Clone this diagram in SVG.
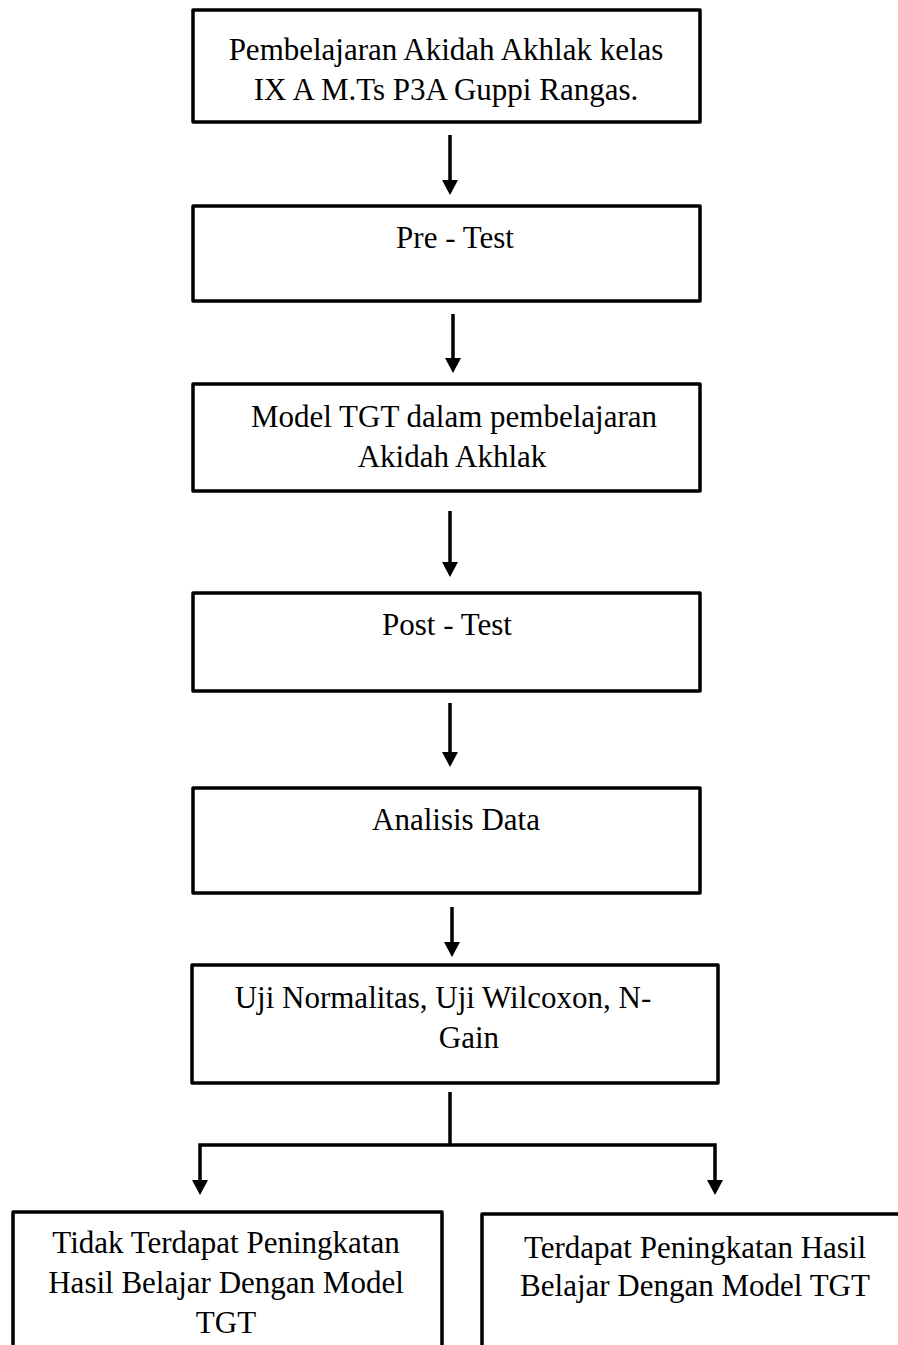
<svg xmlns="http://www.w3.org/2000/svg" width="898" height="1345" viewBox="0 0 898 1345">
<style>
.box{fill:#fff;stroke:#000;stroke-width:3.5;stroke-linejoin:round}
.t{font-family:"Liberation Serif","Times New Roman",serif;font-size:31px;fill:#000;text-anchor:middle}
.c{fill:none;stroke:#000;stroke-width:3.5}
.a{marker-end:url(#ah)}
</style>
<defs>
<marker id="ah" markerUnits="userSpaceOnUse" markerWidth="18" markerHeight="18" refX="11" refY="8" orient="auto">
<path d="M0,0 L15,8 L0,16 Z" fill="#000"/>
</marker>
</defs>
<rect width="898" height="1345" fill="#fff"/>
<g id="n1"><rect class="box" x="193" y="10" width="507" height="112"/>
<text class="t" x="446" y="60">Pembelajaran Akidah Akhlak kelas</text>
<text class="t" x="446" y="100">IX A M.Ts P3A Guppi Rangas.</text></g>
<g id="n2"><rect class="box" x="193" y="206" width="507" height="95"/>
<text class="t" x="455" y="248">Pre - Test</text></g>
<g id="n3"><rect class="box" x="193" y="384" width="507" height="107"/>
<text class="t" x="454" y="427">Model TGT dalam pembelajaran</text>
<text class="t" x="452" y="467">Akidah Akhlak</text></g>
<g id="n4"><rect class="box" x="193" y="593" width="507" height="98"/>
<text class="t" x="447" y="635">Post - Test</text></g>
<g id="n5"><rect class="box" x="193" y="788" width="507" height="105"/>
<text class="t" x="456" y="830">Analisis Data</text></g>
<g id="n6"><rect class="box" x="192" y="965" width="526" height="118"/>
<text class="t" x="443" y="1008">Uji Normalitas, Uji Wilcoxon, N-</text>
<text class="t" x="469" y="1048">Gain</text></g>
<g id="n7"><path class="box" d="M13,1350 V1212 H442 V1350"/>
<text class="t" x="226" y="1253">Tidak Terdapat Peningkatan</text>
<text class="t" x="226" y="1293">Hasil Belajar Dengan Model</text>
<text class="t" x="226" y="1333">TGT</text></g>
<g id="n8"><path class="box" d="M482,1350 V1214 H905 V1350"/>
<text class="t" x="695" y="1258">Terdapat Peningkatan Hasil</text>
<text class="t" x="695" y="1296">Belajar Dengan Model TGT</text></g>
<g id="connectors">
<line class="c a" x1="450" y1="135" x2="450" y2="191"/>
<line class="c a" x1="453" y1="314" x2="453" y2="369"/>
<line class="c a" x1="450" y1="511" x2="450" y2="573"/>
<line class="c a" x1="450" y1="703" x2="450" y2="763"/>
<line class="c a" x1="452" y1="907" x2="452" y2="953"/>
<line class="c" x1="450" y1="1092" x2="450" y2="1145"/>
<path class="c a" d="M450,1145 H200 V1191"/>
<path class="c a" d="M450,1145 H715 V1191"/>
</g>
</svg>
